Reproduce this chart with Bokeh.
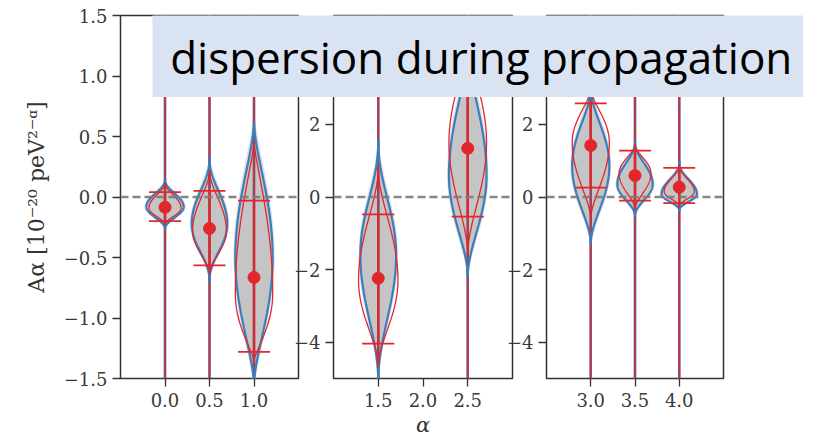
import numpy as np
from bokeh.plotting import figure
from bokeh.layouts import row, column
from bokeh.models import Range1d, FixedTicker, CustomJSTickFormatter, Span, Label
from bokeh.embed import file_html
from bokeh.resources import INLINE

# ---------------- data ----------------
ALPHA = [0.0, 0.5, 1.0, 1.5, 2.5, 3.0, 3.5, 4.0]
PANEL = [0, 0, 0, 1, 1, 2, 2, 2]

# red estimate: point and interval
RED_MID = [-0.085, -0.26, -0.665, -2.24, 1.34, 1.42, 0.59, 0.27]
RED_UP = [0.04, 0.05, -0.03, -0.48, 3.2, 2.58, 1.28, 0.80]
RED_DN = [-0.20, -0.565, -1.28, -4.04, -0.54, 0.26, -0.10, -0.17]
# full sample range (extends beyond the axes)
EXT_LO = [-3.0, -3.0, -3.0, -9.0, -9.0, -9.0, -9.0, -9.0]
EXT_HI = [3.0, 3.0, 3.0, 9.0, 9.0, 9.0, 9.0, 9.0]

# blue (grey-filled) violin: top tip, widest point, bottom tip, half width, shape
B_TOP = [0.15, 0.33, 0.62, 1.6, 4.2, 3.0, 1.55, 1.0]
B_MODE = [-0.08, -0.22, -0.50, -1.6, 0.6, 0.85, 0.35, 0.08]
B_BOT = [-0.27, -0.70, -1.55, -5.2, -2.2, -1.3, -0.55, -0.40]
B_HW = [0.21, 0.20, 0.21, 0.20, 0.21, 0.21, 0.20, 0.20]
B_K = [2.6, 2.5, 1.7, 2.5, 2.0, 2.0, 2.5, 3.0]

# red violin outline
R_TOP = [0.12, 0.22, 0.45, 0.8, 4.5, 3.0, 1.45, 0.90]
R_MODE = [-0.09, -0.28, -0.80, -2.3, 1.5, 1.5, 0.65, 0.15]
R_BOT = [-0.23, -0.64, -1.35, -4.7, -1.6, -0.6, -0.35, -0.28]
R_HW = [0.18, 0.19, 0.21, 0.22, 0.21, 0.21, 0.18, 0.17]
R_K = [2.2, 2.0, 1.3, 2.0, 2.0, 1.8, 2.0, 2.5]

CAP_HW = 0.18

X_RANGES = [(-0.5, 1.5), (1.0, 3.0), (2.5, 4.5)]
Y_RANGES = [(-1.5, 1.5), (-5.0, 5.0), (-5.0, 5.0)]
X_TICKS = [[0.0, 0.5, 1.0], [1.5, 2.0, 2.5], [3.0, 3.5, 4.0]]
Y_TICKS = [[-1.5, -1.0, -0.5, 0.0, 0.5, 1.0, 1.5], [-4, -2, 0, 2, 4], [-4, -2, 0, 2, 4]]
Y_DEC = [1, 0, 0]

TITLE = "dispersion during propagation"
Y_LABEL = "Aα [10⁻²⁰ peV²⁻ᵅ]"
X_LABEL = "α"

# ---------------- style / layout ----------------
BLUE = "#3b7dbd"
RED = "#e3262b"
GREY = "#c2c2c2"
FRAME = "#333333"
TICKFONT = "DejaVu Serif"
H = 440
TOP = 15
FH = 363
LEFTS = [120, 45, 45]
FWS = [178, 179, 177]
RIGHTS = [4, 4, 70]
SHIFTS = [0, -14, -15]


def profile(mode, top, bot, hw, k, n=90):
    ys = np.concatenate([np.linspace(bot, mode, n)[:-1], np.linspace(mode, top, n)])
    t = np.where(ys >= mode, (ys - mode) / (top - mode), (mode - ys) / (mode - bot))
    w = hw * np.clip(1 - t ** 2, 0, None) ** k
    return ys, w


def closed(x0, ys, w):
    return (np.concatenate([x0 - w, (x0 + w)[::-1]]),
            np.concatenate([ys, ys[::-1]]))


panels = []
for pi in range(3):
    p = figure(width=LEFTS[pi] + FWS[pi] + RIGHTS[pi], height=H,
               x_range=Range1d(*X_RANGES[pi]), y_range=Range1d(*Y_RANGES[pi]),
               output_backend="svg", toolbar_location=None,
               min_border_left=LEFTS[pi], min_border_right=RIGHTS[pi],
               min_border_top=TOP, min_border_bottom=H - TOP - FH)
    p.grid.visible = False
    p.outline_line_color = FRAME
    p.outline_line_width = 1.5
    p.background_fill_color = "white"
    if pi == 0:
        p.border_fill_color = "white"
    else:
        p.border_fill_alpha = 0
    p.margin = (0, 0, 0, SHIFTS[pi])

    for i, a in enumerate(ALPHA):
        if PANEL[i] != pi:
            continue
        # grey body (soft outer + inner)
        Lu = B_TOP[i] - B_MODE[i]
        Ld = B_MODE[i] - B_BOT[i]
        ys, w = profile(B_MODE[i], B_TOP[i] + 0.12 * Lu, B_BOT[i] - 0.08 * Ld, B_HW[i] * 1.1, B_K[i])
        xs, yy = closed(a, ys, w)
        p.patch(xs, yy, fill_color="#cfcfcf", fill_alpha=0.65, line_color=None)
        ys, w = profile(B_MODE[i], B_TOP[i], B_BOT[i], B_HW[i], B_K[i])
        xs, yy = closed(a, ys, w)
        p.patch(xs, yy, fill_color=GREY, fill_alpha=0.9, line_color=None)
        # full range line (blue under red)
        p.segment(x0=[a], y0=[EXT_LO[i]], x1=[a], y1=[EXT_HI[i]], line_color=BLUE, line_width=2.4)
        p.segment(x0=[a], y0=[EXT_LO[i]], x1=[a], y1=[EXT_HI[i]], line_color="#d62728",
                  line_alpha=0.72, line_width=2.4)
        # blue outline
        p.line(a - w, ys, line_color=BLUE, line_width=2.2)
        p.line(a + w, ys, line_color=BLUE, line_width=2.2)
        # red outline
        ys2, w2 = profile(R_MODE[i], R_TOP[i], R_BOT[i], R_HW[i], R_K[i])
        p.line(a - w2, ys2, line_color=RED, line_width=1.3)
        p.line(a + w2, ys2, line_color=RED, line_width=1.3)
        # interval
        p.segment(x0=[a], y0=[RED_DN[i]], x1=[a], y1=[RED_UP[i]], line_color=RED, line_width=2.2)
        p.segment(x0=[a - CAP_HW, a - CAP_HW], y0=[RED_DN[i], RED_UP[i]],
                  x1=[a + CAP_HW, a + CAP_HW], y1=[RED_DN[i], RED_UP[i]],
                  line_color=RED, line_width=1.8)
        p.scatter([a], [RED_MID[i]], size=12, fill_color=RED, line_color=RED)

    p.add_layout(Span(location=0, dimension="width", line_color="#7a7a7a",
                      line_width=2.6, line_dash="8 4", line_alpha=0.9))

    for ax in (p.xaxis[0], p.yaxis[0]):
        ax.axis_line_color = None
        ax.major_tick_line_color = FRAME
        ax.major_tick_line_width = 1.3
        ax.major_tick_out = 8
        ax.major_tick_in = 0
        ax.minor_tick_line_color = None
        ax.major_label_text_font = TICKFONT
        ax.major_label_text_font_size = "18px"
        ax.major_label_text_color = "#3a3a3a"
    p.xaxis.ticker = FixedTicker(ticks=X_TICKS[pi])
    p.xaxis.formatter = CustomJSTickFormatter(code="return tick.toFixed(1);")
    p.xaxis.major_label_standoff = 6
    p.yaxis.ticker = FixedTicker(ticks=Y_TICKS[pi])
    p.yaxis.formatter = CustomJSTickFormatter(
        code="return (tick < 0 ? '\u2212' : '') + Math.abs(tick).toFixed(%d);" % Y_DEC[pi])
    p.yaxis.major_label_standoff = 5
    if pi == 0:
        p.yaxis.axis_label = Y_LABEL
        p.yaxis.axis_label_text_font = TICKFONT
        p.yaxis.axis_label_text_font_size = "22px"
        p.yaxis.axis_label_text_font_style = "normal"
        p.yaxis.axis_label_text_color = "#333333"
        p.yaxis.axis_label_standoff = 12
    if pi == 1:
        p.xaxis.axis_label = X_LABEL
        p.xaxis.axis_label_text_font = TICKFONT
        p.xaxis.axis_label_text_font_size = "21px"
        p.xaxis.axis_label_text_font_style = "italic"
        p.xaxis.axis_label_text_color = "#333333"
        p.xaxis.axis_label_standoff = 3
    panels.append(p)

# title box overlaid on the panels
box = figure(width=651, height=82, x_range=Range1d(0, 1), y_range=Range1d(0, 1),
             output_backend="svg", toolbar_location=None, min_border=0,
             x_axis_location=None, y_axis_location=None,
             background_fill_color="#dae3f1", border_fill_alpha=0, outline_line_color=None)
box.grid.visible = False
box.add_layout(Label(x=0.505, y=0.50, text=TITLE, text_align="center",
                     text_baseline="alphabetic", text_font="Open Sans",
                     text_font_size="44px", text_color="black"))
box.margin = (TOP - H, 0, 0, 152)

layout = column(row(*panels), box)
open("out.html", "w").write(file_html(layout, INLINE))
